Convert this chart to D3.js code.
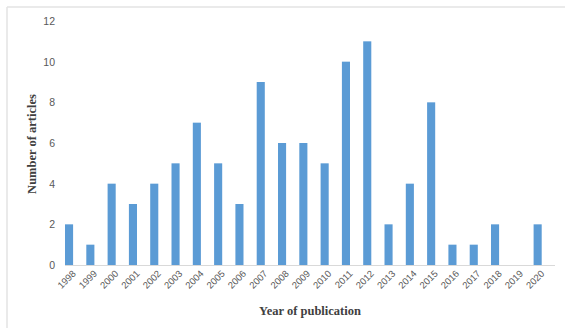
<!DOCTYPE html>
<html>
<head>
<meta charset="utf-8">
<script src="https://cdn.jsdelivr.net/npm/d3@7"></script>
<style>
  html, body { margin: 0; padding: 0; background: #fff; }
  svg { display: block; }
</style>
</head>
<body>
<svg id="chart" width="565" height="331"></svg>
<script>
// Publications per year
const years = ["1998","1999","2000","2001","2002","2003","2004","2005","2006","2007","2008",
               "2009","2010","2011","2012","2013","2014","2015","2016","2017","2018","2019","2020"];
const articles = [2,1,4,3,4,5,7,5,3,9,6,6,5,10,11,2,4,8,1,1,2,0,2];
const yTicks = [0,2,4,6,8,10,12];

const svg = d3.select("#chart");
const W = 565, H = 331;

// outer frame (top and left edges)
svg.append("line").attr("x1", 7).attr("x2", W).attr("y1", 7).attr("y2", 7)
  .attr("stroke", "#e3e3e3").attr("stroke-width", 1.5);
svg.append("line").attr("x1", 7).attr("x2", 7).attr("y1", 7).attr("y2", 328)
  .attr("stroke", "#e3e3e3").attr("stroke-width", 1.5);

const x = d3.scaleBand().domain(years).range([58.4, 548.3]).paddingInner(0.62).paddingOuter(0.31);
const y = d3.scaleLinear().domain([0, 12]).range([265, 21]);

// y axis labels
const yAxis = d3.axisLeft(y).tickValues(yTicks).tickSize(0).tickPadding(0);
svg.append("g").attr("transform", "translate(55,0)").call(yAxis)
  .call(g => g.select(".domain").remove())
  .call(g => g.selectAll("text")
    .attr("font-family", "'Liberation Sans', Arial, sans-serif")
    .attr("font-size", 10.5).attr("fill", "#595959"));

// bars
svg.append("g").selectAll("rect").data(years).join("rect")
  .attr("x", d => x(d))
  .attr("width", x.bandwidth())
  .attr("y", (d, i) => y(articles[i]))
  .attr("height", (d, i) => y(0) - y(articles[i]))
  .attr("fill", "#5b9bd5");

// baseline
svg.append("line")
  .attr("x1", x(years[0])).attr("x2", 555)
  .attr("y1", y(0) + 0.5).attr("y2", y(0) + 0.5)
  .attr("stroke", "#d9d9d9").attr("stroke-width", 1);

// x tick labels, rotated
svg.append("g").selectAll("text").data(years).join("text")
  .attr("transform", d => `translate(${x(d) + x.bandwidth() / 2 + 5},${y(0) + 7}) rotate(-45)`)
  .attr("text-anchor", "end")
  .attr("dy", "0.35em")
  .attr("font-family", "'Liberation Sans', Arial, sans-serif")
  .attr("font-size", 9.5).attr("fill", "#595959")
  .text(d => d);

// axis titles
svg.append("text")
  .attr("transform", "translate(36,144) rotate(-90)")
  .attr("text-anchor", "middle")
  .attr("font-family", "'Liberation Serif', 'Times New Roman', serif")
  .attr("font-weight", "bold").attr("font-size", 12.5).attr("fill", "#404040")
  .text("Number of articles");

svg.append("text")
  .attr("x", 310).attr("y", 315)
  .attr("text-anchor", "middle")
  .attr("font-family", "'Liberation Serif', 'Times New Roman', serif")
  .attr("font-weight", "bold").attr("font-size", 12.5).attr("fill", "#404040")
  .text("Year of publication");
</script>
</body>
</html>
